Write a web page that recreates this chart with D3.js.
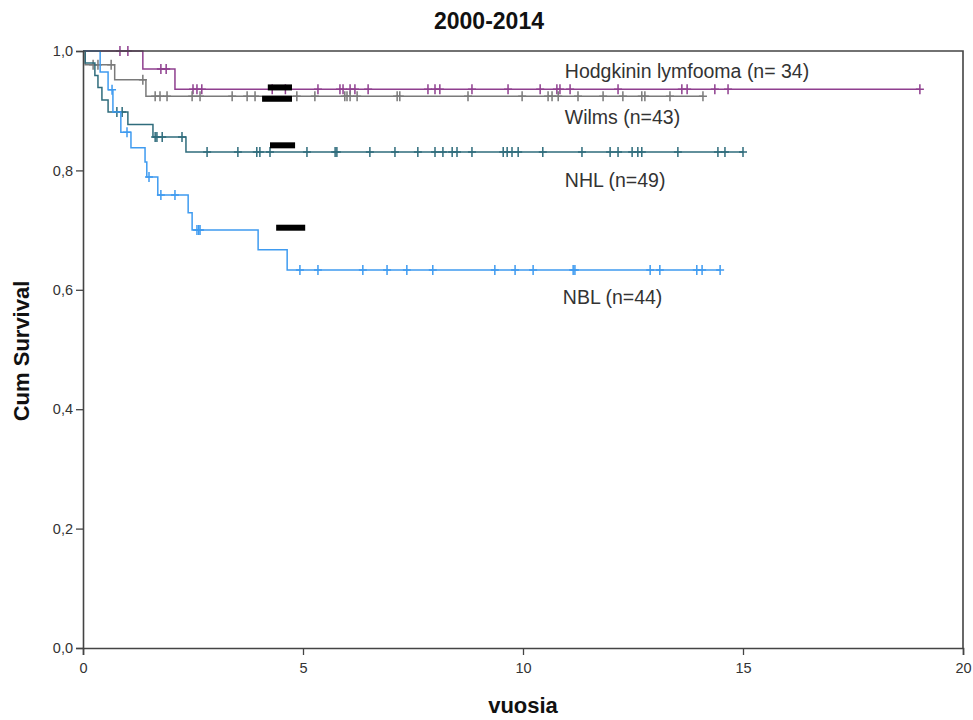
<!DOCTYPE html>
<html>
<head>
<meta charset="utf-8">
<script src="https://cdn.jsdelivr.net/npm/d3@7"></script>
<style>
  body { margin: 0; background: #fff; }
  svg { font-family: "Liberation Sans", Arial, sans-serif; }
</style>
</head>
<body>
<script>
// Kaplan-Meier steps: [time in years, survival after the event]
const hodgkinSteps = [[1.36, 0.970], [2.09, 0.936]];
const hodgkinCens = [0.84, 1.02, 1.77, 1.89, 2.5, 2.59, 2.7, 4.3, 4.6, 5.34, 5.84, 5.91, 6.07, 6.18, 6.48, 7.84, 8.0, 8.11, 8.84, 9.66, 10.39, 10.77, 10.84, 11.07, 12.16, 13.61, 13.73, 14.36, 14.66, 19.02];

const wilmsSteps = [[0.05, 0.977], [0.72, 0.952], [1.43, 0.924]];
const wilmsCens = [0.23, 0.34, 0.64, 1.36, 1.64, 1.75, 1.91, 2.48, 2.66, 3.39, 3.73, 3.91, 4.86, 5.27, 5.95, 6.0, 6.07, 6.23, 7.14, 7.2, 8.75, 9.98, 10.57, 10.66, 10.8, 11.25, 11.82, 12.27, 12.7, 12.77, 13.34, 14.09];

const nhlSteps = [[0.05, 0.980], [0.27, 0.959], [0.34, 0.939], [0.43, 0.918], [0.57, 0.898], [1.02, 0.877], [1.59, 0.856], [2.34, 0.831]];
const nhlCens = [0.77, 0.89, 1.64, 1.68, 1.8, 2.25, 2.82, 3.52, 3.95, 4.02, 4.25, 5.09, 5.73, 5.77, 6.52, 7.09, 7.61, 8.0, 8.18, 8.39, 8.5, 8.84, 9.55, 9.64, 9.75, 9.89, 10.45, 11.34, 11.98, 12.16, 12.48, 12.61, 12.7, 13.52, 14.43, 14.59, 15.0];

const nblSteps = [[0.39, 0.965], [0.57, 0.935], [0.68, 0.898], [0.86, 0.864], [1.09, 0.838], [1.41, 0.814], [1.45, 0.789], [1.70, 0.759], [2.39, 0.729], [2.48, 0.700], [3.98, 0.667], [4.64, 0.633]];
const nblCens = [0.66, 1.0, 1.5, 1.77, 2.09, 2.59, 2.63, 2.66, 4.93, 5.34, 6.36, 6.91, 7.36, 7.95, 9.36, 9.82, 10.23, 11.14, 11.18, 12.89, 13.11, 13.95, 14.07, 14.48];

const seriesNames = ["Hodgkinin lymfooma (n= 34)", "Wilms (n=43)", "NHL (n=49)", "NBL (n=44)"];
const xTicks = [0, 5, 10, 15, 20];
const yTicks = [0, 0.2, 0.4, 0.6, 0.8, 1.0];

// black blocks over the curves: [t start, t end, survival]
const blocks = [[4.2, 4.75, 0.939], [4.07, 4.75, 0.920], [4.25, 4.82, 0.842], [4.39, 5.05, 0.704]];

const w = 973, h = 720;
const colors = ["#8f3f8f", "#7a7a7a", "#2f6c7c", "#3f9bf0"];

const x = d3.scaleLinear().domain([0, 20]).range([83, 963]);
const y = d3.scaleLinear().domain([0, 1]).range([648, 51]);

const svg = d3.select("body").append("svg")
  .attr("width", w)
  .attr("height", h);

const series = [
  {steps: hodgkinSteps, cens: hodgkinCens},
  {steps: wilmsSteps, cens: wilmsCens},
  {steps: nhlSteps, cens: nhlCens},
  {steps: nblSteps, cens: nblCens}
];

function survAt(steps, t) {
  let s = 1;
  steps.forEach(d => { if (d[0] <= t) s = d[1]; });
  return s;
}

const line = d3.line()
  .x(d => x(d[0]))
  .y(d => y(d[1]))
  .curve(d3.curveStepAfter);

// curves with "+" censor marks
series.forEach((sr, i) => {
  const end = Math.max(d3.max(sr.cens), d3.max(sr.steps, d => d[0]));
  const pts = [[0, 1]].concat(sr.steps, [[end, sr.steps[sr.steps.length - 1][1]]]);
  const g = svg.append("g").attr("class", "series");
  g.append("path")
    .datum(pts)
    .attr("d", line)
    .attr("fill", "none")
    .attr("stroke", colors[i])
    .attr("stroke-width", 1.5);
  g.selectAll("path.cens")
    .data(sr.cens).enter()
    .append("path")
    .attr("class", "cens")
    .attr("d", d => {
      const cx = x(d), cy = y(survAt(sr.steps, d));
      return `M${cx},${cy - 5}V${cy + 5}M${cx - 4},${cy}H${cx + 4}`;
    })
    .attr("stroke", colors[i])
    .attr("stroke-width", 1.5);
});

// black blocks
svg.append("g").selectAll("rect")
  .data(blocks).enter()
  .append("rect")
  .attr("x", d => x(d[0]))
  .attr("width", d => x(d[1]) - x(d[0]))
  .attr("y", d => y(d[2]) - 3)
  .attr("height", 6)
  .attr("fill", "#000");

// axes
const axisColor = "#444";
const xAxis = svg.append("g")
  .attr("transform", `translate(0,${y(0)})`)
  .call(d3.axisBottom(x).tickValues(xTicks).tickSize(7).tickFormat(d3.format("d")));
const yAxis = svg.append("g")
  .attr("transform", `translate(${x(0)},0)`)
  .call(d3.axisLeft(y).tickValues(yTicks).tickSize(7).tickFormat(d => d.toFixed(1).replace(".", ",")));

[xAxis, yAxis].forEach(a => {
  a.select(".domain").attr("stroke", axisColor).attr("stroke-width", 1.6);
  a.selectAll(".tick line").attr("stroke", axisColor).attr("stroke-width", 1.3);
  a.selectAll(".tick text")
    .attr("fill", "#333")
    .attr("font-size", 14.5)
    .attr("font-family", "Liberation Sans, Arial, sans-serif");
});
xAxis.selectAll(".tick text").attr("dy", "1.05em");
yAxis.selectAll(".tick text").attr("dx", "0px");

// frame top / right
svg.append("path")
  .attr("d", `M${x(0)},${y(1)}H${x(20)}V${y(0)}`)
  .attr("fill", "none")
  .attr("stroke", axisColor)
  .attr("stroke-width", 1.6);

// series labels
const labelT = 10.95;
const labelS = [0.954, 0.877, 0.773, 0.577];
svg.append("g").selectAll("text")
  .data(seriesNames).enter()
  .append("text")
  .attr("x", (d, i) => x(labelT) - (i === 3 ? 2 : 0))
  .attr("y", (d, i) => y(labelS[i]))
  .attr("fill", "#333")
  .attr("font-size", 19.5)
  .text(d => d);

// titles
svg.append("text")
  .attr("x", 489).attr("y", 29)
  .attr("text-anchor", "middle")
  .attr("font-size", 23).attr("font-weight", "bold")
  .attr("fill", "#111")
  .text("2000-2014");

svg.append("text")
  .attr("x", 523).attr("y", 713)
  .attr("text-anchor", "middle")
  .attr("font-size", 22).attr("font-weight", "bold")
  .attr("fill", "#111")
  .text("vuosia");

svg.append("text")
  .attr("transform", "translate(29,351) rotate(-90)")
  .attr("text-anchor", "middle")
  .attr("font-size", 22).attr("font-weight", "bold")
  .attr("fill", "#111")
  .text("Cum Survival");
</script>
</body>
</html>
